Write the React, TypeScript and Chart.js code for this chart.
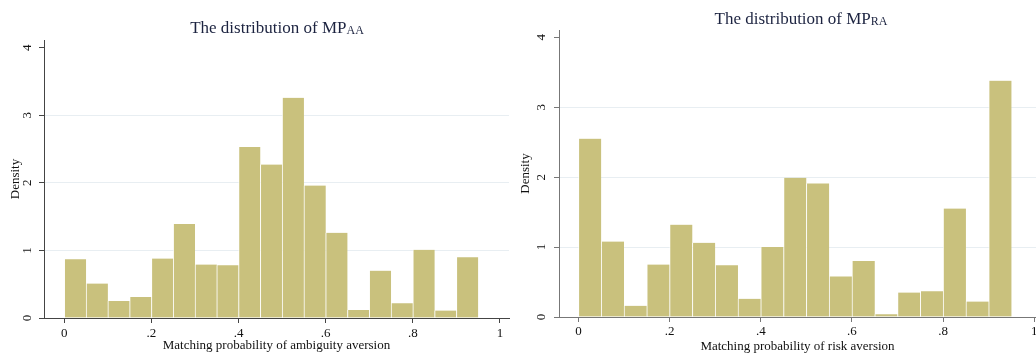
import React, { useEffect, useRef } from "react";
import { Chart, registerables } from "chart.js";

Chart.register(...registerables);

// ---- data ----
const binStarts = [0, 0.05, 0.1, 0.15, 0.2, 0.25, 0.3, 0.35, 0.4, 0.45, 0.5, 0.55, 0.6, 0.65, 0.7, 0.75, 0.8, 0.85, 0.9];
const binWidth = 0.05;
const densityAA = [0.87, 0.51, 0.25, 0.31, 0.88, 1.39, 0.79, 0.78, 2.53, 2.27, 3.26, 1.96, 1.26, 0.12, 0.7, 0.22, 1.01, 0.11, 0.9];
const densityRA = [2.55, 1.08, 0.16, 0.75, 1.32, 1.06, 0.74, 0.26, 1.0, 1.99, 1.91, 0.58, 0.8, 0.04, 0.35, 0.37, 1.55, 0.22, 3.38];
const xTickValues = [0, 0.2, 0.4, 0.6, 0.8, 1];
const xTickLabels = ["0", ".2", ".4", ".6", ".8", "1"];
const yTickValues = [0, 1, 2, 3, 4];
const yTickLabels = ["0", "1", "2", "3", "4"];

const SERIF = "'Liberation Serif', 'Times New Roman', serif";
const BAR_COLOR = "#c9c17d";

type HistProps = {
  left: number;
  width: number;
  values: number[];
  xTitle: string;
  xMin: number;
  xMax: number;
  yMax: number;
  padTop: number;
  padRight: number;
  yAxisWidth: number;
  xAxisHeight: number;
  axisColor: string;
  yTickPad: number;
  xTickPad: number;
  yTitlePad: number;
  xTitlePad: number;
};

function Histogram(p: HistProps) {
  const ref = useRef<HTMLCanvasElement>(null);
  useEffect(() => {
    const data = binStarts.map((b, i) => ({ x: b + binWidth / 2, y: p.values[i] }));
    const chart = new Chart(ref.current as HTMLCanvasElement, {
      type: "bar",
      data: {
        datasets: [
          {
            data: data as any,
            backgroundColor: BAR_COLOR,
            borderColor: "rgba(255,255,255,0.7)",
            borderWidth: { left: 1, right: 0, top: 0, bottom: 0 } as any,
            barPercentage: 1,
            categoryPercentage: 1,
          },
        ],
      },
      options: {
        animation: false,
        responsive: false,
        maintainAspectRatio: false,
        layout: { padding: { top: p.padTop, right: p.padRight, left: 0, bottom: 0 } },
        plugins: {
          legend: { display: false },
          tooltip: { enabled: false },
          title: { display: false },
        },
        scales: {
          x: {
            type: "linear",
            offset: false,
            min: p.xMin,
            max: p.xMax,
            grid: {
              display: true,
              offset: false,
              drawOnChartArea: false,
              drawTicks: true,
              tickLength: 5,
              tickColor: p.axisColor,
              color: p.axisColor,
            },
            border: { display: true, color: p.axisColor, width: 1 },
            ticks: {
              autoSkip: false,
              maxRotation: 0,
              minRotation: 0,
              padding: p.xTickPad,
              color: "#111",
              font: { family: SERIF, size: 13 },
              callback: (_v: any, i: number) => xTickLabels[i],
            },
            afterBuildTicks: (s: any) => {
              s.ticks = xTickValues.map((v) => ({ value: v }));
            },
            afterFit: (s: any) => {
              s.height = p.xAxisHeight;
              s.paddingLeft = 0;
              s.paddingRight = 0;
            },
            title: {
              display: true,
              text: p.xTitle,
              color: "#111",
              font: { family: SERIF, size: 13 },
              padding: { top: 0, bottom: p.xTitlePad },
            },
          },
          y: {
            type: "linear",
            min: 0,
            max: p.yMax,
            grid: {
              drawTicks: true,
              tickLength: 5,
              tickColor: p.axisColor,
              color: (ctx: any) =>
                ctx.tick && (ctx.tick.value === 0 || ctx.tick.value === 4) ? "rgba(0,0,0,0)" : "#e8eef2",
            },
            border: { display: true, color: p.axisColor, width: 1 },
            ticks: {
              minRotation: 90,
              maxRotation: 90,
              crossAlign: "center",
              padding: p.yTickPad,
              color: "#111",
              font: { family: SERIF, size: 13 },
              callback: (_v: any, i: number) => yTickLabels[i],
            },
            afterBuildTicks: (s: any) => {
              s.ticks = yTickValues.map((v) => ({ value: v }));
            },
            afterFit: (s: any) => {
              s.width = p.yAxisWidth;
              s.paddingTop = 0;
              s.paddingBottom = 0;
            },
            title: {
              display: true,
              text: "Density",
              color: "#111",
              font: { family: SERIF, size: 13 },
              padding: { top: p.yTitlePad, bottom: 0 },
            },
          },
        },
      },
    } as any);
    return () => chart.destroy();
  }, []);
  return (
    <canvas
      ref={ref}
      width={p.width}
      height={354}
      style={{ position: "absolute", left: p.left, top: 0, width: p.width, height: 354 }}
    />
  );
}

const titleStyle: React.CSSProperties = {
  position: "absolute",
  transform: "translateX(-50%)",
  fontFamily: SERIF,
  fontSize: 17,
  lineHeight: "20px",
  color: "#1c2340",
  whiteSpace: "nowrap",
};

export default function App() {
  return (
    <div
      style={{
        position: "absolute",
        left: 0,
        top: 0,
        width: 1036,
        height: 354,
        background: "#ffffff",
        overflow: "hidden",
      }}
    >
      <Histogram
        left={0}
        width={516}
        values={densityAA}
        xTitle="Matching probability of ambiguity aversion"
        xMin={-0.0466}
        xMax={1.0207}
        yMax={4.114}
        padTop={40}
        padRight={7}
        yAxisWidth={44}
        xAxisHeight={36}
        axisColor="#444444"
        yTickPad={8}
        xTickPad={3}
        yTitlePad={7.7}
        xTitlePad={0.6}
      />
      <Histogram
        left={516}
        width={520}
        values={densityRA}
        xTitle="Matching probability of risk aversion"
        xMin={-0.0426}
        xMax={1.0037}
        yMax={4.104}
        padTop={30}
        padRight={0}
        yAxisWidth={43}
        xAxisHeight={37}
        axisColor="#777777"
        yTickPad={9}
        xTickPad={2}
        yTitlePad={2.2}
        xTitlePad={0}
      />
      <div style={{ ...titleStyle, left: 277, top: 18 }}>
        The distribution of MP<span style={{ fontSize: 12, verticalAlign: "-1px" }}>AA</span>
      </div>
      <div style={{ ...titleStyle, left: 801, top: 9 }}>
        The distribution of MP<span style={{ fontSize: 12, verticalAlign: "-1px" }}>RA</span>
      </div>
    </div>
  );
}
